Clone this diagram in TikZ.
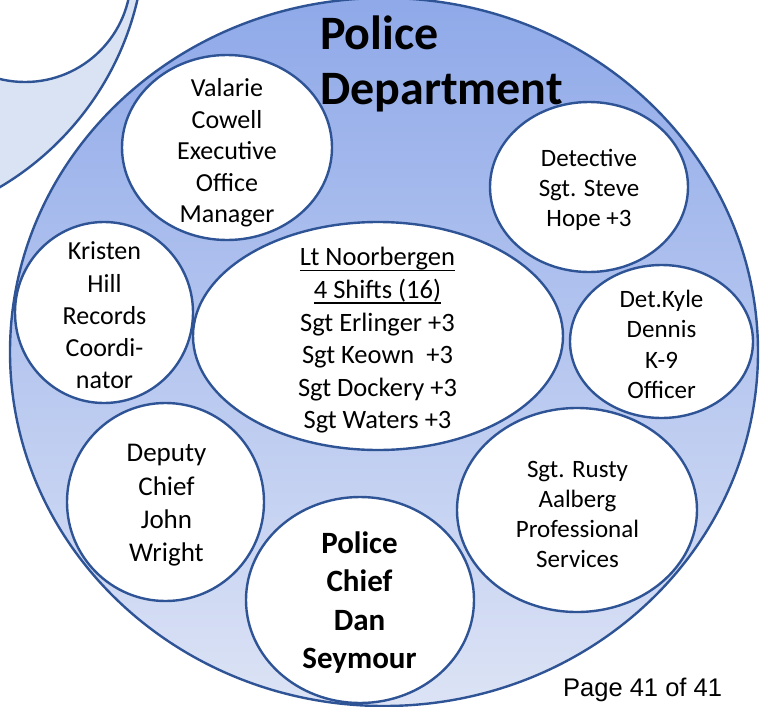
\documentclass[tikz,border=0pt]{standalone}
\usepackage{fontspec}
\setmainfont{Carlito}
\newfontfamily\pagefont{Liberation Sans}
\usetikzlibrary{shapes.geometric}
\definecolor{rim}{HTML}{2F5496}
\definecolor{deep}{HTML}{8FA9E9}
\definecolor{pale}{HTML}{DCE3F5}
\definecolor{ghost}{HTML}{DAE3F3}
% underline with a fixed drop below the baseline
\newcommand\ulnote[1]{\sbox0{#1}\rlap{\rule[-5.5pt]{\wd0}{1.6pt}}\usebox0}
\begin{document}
\begin{tikzpicture}[x=1pt,y=-1pt,
  rimline/.style={draw=rim, line width=2.4pt},
  bubble/.style={ellipse, rimline, fill=white, inner sep=0pt},
  txt/.style={align=center, inner sep=0pt, text=black}]
\useasboundingbox (0,0) rectangle (769,707);

% ring of the preceding page, partly off the sheet
\node[circle, rimline, fill=ghost, inner sep=0pt, minimum size=590pt] (prevring) at (-150,-67) {};
\node[circle, rimline, fill=white, inner sep=0pt, minimum size=212pt] (prevcore) at (25,-24) {};

% department ellipse
\node[ellipse, rimline, top color=deep, bottom color=pale, inner sep=0pt,
      minimum width=748pt, minimum height=708pt] (dept) at (384,352) {};

% member bubbles
\node[bubble, minimum width=210pt, minimum height=185pt] (valarie) at (227,147.5) {};
\node[bubble, minimum width=198pt, minimum height=170pt] (detective) at (589,187) {};
\node[bubble, minimum width=183pt, minimum height=153pt] (kyle) at (661.5,341.5) {};
\node[bubble, minimum width=240pt, minimum height=204pt] (rusty) at (577,510) {};
\node[bubble, minimum width=178pt, minimum height=181pt] (kristen) at (104,312.5) {};
\node[bubble, minimum width=197pt, minimum height=198pt] (deputy) at (165.5,502) {};
\node[bubble, minimum width=228pt, minimum height=206pt] (chief) at (360,600) {};
\node[bubble, minimum width=370pt, minimum height=228pt] (shifts) at (378,336) {};

% labels
\node[txt, anchor=west, align=left, font=\fontsize{48pt}{55pt}\selectfont\bfseries] (title) at (320,64) {Police\\Department};
\node[txt, font=\fontsize{26pt}{31.5pt}\selectfont] (valarieT) at (227,153) {Valarie\\Cowell\\Executive\\Office\\Manager};
\node[txt, font=\fontsize{25pt}{30pt}\selectfont] (detectiveT) at (589,190) {Detective\\Sgt. Steve\\Hope +3};
\node[txt, font=\fontsize{25pt}{30.3pt}\selectfont] (kyleT) at (661.5,344.5) {Det.Kyle\\Dennis\\K-9\\Officer};
\node[txt, font=\fontsize{25pt}{30pt}\selectfont] (rustyT) at (577.5,514) {Sgt. Rusty\\Aalberg\\Professional\\Services};
\node[txt, font=\fontsize{26pt}{32.3pt}\selectfont] (kristenT) at (104.5,315.5) {Kristen\\Hill\\Records\\Coordi-\\nator};
\node[txt, font=\fontsize{27pt}{33.3pt}\selectfont] (deputyT) at (166.5,505.5) {Deputy\\Chief\\John\\Wright};
\node[txt, font=\fontsize{31pt}{38.3pt}\selectfont\bfseries] (chiefT) at (359.5,602.5) {Police\\Chief\\Dan\\Seymour};
\node[txt, font=\fontsize{26.5pt}{32.6pt}\selectfont] (shiftsT) at (377.5,340.5)
  {\ulnote{Lt Noorbergen}\\\ulnote{4 Shifts (16)}\\Sgt Erlinger +3\\Sgt Keown~ +3\\Sgt Dockery +3\\Sgt Waters +3};
\node[txt, anchor=base west, font=\pagefont\fontsize{25.5pt}{29pt}\selectfont] (page) at (563,696) {Page 41 of 41};
\end{tikzpicture}
\end{document}
